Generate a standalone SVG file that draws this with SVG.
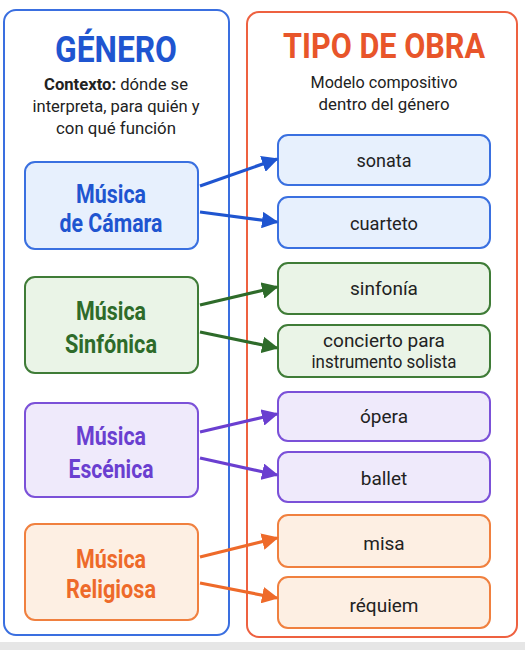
<svg xmlns="http://www.w3.org/2000/svg" width="525" height="650" viewBox="0 0 525 650">
<style>
text{font-family:Roboto,"Noto Sans","Liberation Sans",sans-serif;text-anchor:middle}
.panel{fill:#ffffff;stroke-width:2}
.gen{font-weight:700;font-size:25px}
.tipo{font-size:19px;fill:#222}
.sub{font-size:17px;fill:#222}
.nb rect{fill:#e7f0fd;stroke:#3a70e0;stroke-width:2}
.ng rect{fill:#eaf4e7;stroke:#3f7c37;stroke-width:2}
.np rect{fill:#efeafb;stroke:#7b51d8;stroke-width:2}
.no rect{fill:#fdefe3;stroke:#f0803f;stroke-width:2}
.nb text.gen{fill:#1f55d0}
.ng text.gen{fill:#2e6b2a}
.np text.gen{fill:#6a3fd0}
.no text.gen{fill:#ee6a2a}
.c{stroke-width:3.2;fill:none}
</style>
<defs>
<marker id="ab" viewBox="0 0 10 10" refX="9" refY="5" markerWidth="5.2" markerHeight="5.2" orient="auto" markerUnits="strokeWidth"><path d="M0,0 L10,5 L0,10 z" fill="#1f55d0"/></marker>
<marker id="ag" viewBox="0 0 10 10" refX="9" refY="5" markerWidth="5.2" markerHeight="5.2" orient="auto" markerUnits="strokeWidth"><path d="M0,0 L10,5 L0,10 z" fill="#2e6b2a"/></marker>
<marker id="ap" viewBox="0 0 10 10" refX="9" refY="5" markerWidth="5.2" markerHeight="5.2" orient="auto" markerUnits="strokeWidth"><path d="M0,0 L10,5 L0,10 z" fill="#6a3fd0"/></marker>
<marker id="ao" viewBox="0 0 10 10" refX="9" refY="5" markerWidth="5.2" markerHeight="5.2" orient="auto" markerUnits="strokeWidth"><path d="M0,0 L10,5 L0,10 z" fill="#ee6a2a"/></marker>
</defs>
<rect x="0" y="0" width="525" height="650" fill="#ffffff"/>
<rect x="0" y="642" width="525" height="8" fill="#e6e6e6"/>

<g id="panel-genero">
<rect class="panel" x="4" y="10" width="225" height="625" rx="12" stroke="#3a6fe0"/>
<text x="116" y="62" font-size="37" font-weight="700" fill="#1f55d0" textLength="122" lengthAdjust="spacingAndGlyphs">GÉNERO</text>
<text class="sub" x="116" y="90" textLength="144" lengthAdjust="spacingAndGlyphs"><tspan font-weight="700">Contexto:</tspan> dónde se</text>
<text class="sub" x="116" y="112" textLength="167" lengthAdjust="spacingAndGlyphs">interpreta, para quién y</text>
<text class="sub" x="116" y="134" textLength="120" lengthAdjust="spacingAndGlyphs">con qué función</text>
</g>

<g id="panel-tipo">
<rect class="panel" x="247" y="12" width="270" height="625" rx="12" stroke="#ee6140"/>
<text x="384" y="58" font-size="35" font-weight="700" fill="#e8552a" textLength="202" lengthAdjust="spacingAndGlyphs">TIPO DE OBRA</text>
<text class="sub" x="384" y="88" textLength="147" lengthAdjust="spacingAndGlyphs">Modelo compositivo</text>
<text class="sub" x="384" y="110" textLength="131" lengthAdjust="spacingAndGlyphs">dentro del género</text>
</g>

<g id="n-camara" class="nb">
<rect x="25" y="162" width="173" height="87" rx="10"/>
<text class="gen" x="111" y="203" textLength="70" lengthAdjust="spacingAndGlyphs">Música</text>
<text class="gen" x="111" y="232" textLength="103" lengthAdjust="spacingAndGlyphs">de Cámara</text>
</g>
<g id="n-sinfonica" class="ng">
<rect x="25" y="277" width="173" height="96" rx="10"/>
<text class="gen" x="111" y="320" textLength="70" lengthAdjust="spacingAndGlyphs">Música</text>
<text class="gen" x="111" y="353" textLength="92" lengthAdjust="spacingAndGlyphs">Sinfónica</text>
</g>
<g id="n-escenica" class="np">
<rect x="25" y="403" width="173" height="94" rx="10"/>
<text class="gen" x="111" y="445" textLength="70" lengthAdjust="spacingAndGlyphs">Música</text>
<text class="gen" x="111" y="478" textLength="85" lengthAdjust="spacingAndGlyphs">Escénica</text>
</g>
<g id="n-religiosa" class="no">
<rect x="25" y="524" width="173" height="96" rx="10"/>
<text class="gen" x="111" y="568" textLength="70" lengthAdjust="spacingAndGlyphs">Música</text>
<text class="gen" x="111" y="598" textLength="90" lengthAdjust="spacingAndGlyphs">Religiosa</text>
</g>

<g id="t-sonata" class="nb"><rect x="278" y="135" width="212" height="50" rx="10"/><text class="tipo" x="384" y="167" textLength="55" lengthAdjust="spacingAndGlyphs">sonata</text></g>
<g id="t-cuarteto" class="nb"><rect x="278" y="197" width="212" height="51" rx="10"/><text class="tipo" x="384" y="230" textLength="68" lengthAdjust="spacingAndGlyphs">cuarteto</text></g>
<g id="t-sinfonia" class="ng"><rect x="278" y="263" width="212" height="51" rx="10"/><text class="tipo" x="384" y="295">sinfonía</text></g>
<g id="t-concierto" class="ng"><rect x="278" y="325" width="212" height="52" rx="10"/><text class="tipo" x="384" y="347" font-size="18">concierto para</text><text class="tipo" x="384" y="368" font-size="18" textLength="145" lengthAdjust="spacingAndGlyphs">instrumento solista</text></g>
<g id="t-opera" class="np"><rect x="278" y="392" width="212" height="49" rx="10"/><text class="tipo" x="384" y="423">ópera</text></g>
<g id="t-ballet" class="np"><rect x="278" y="452" width="212" height="50" rx="10"/><text class="tipo" x="384" y="485">ballet</text></g>
<g id="t-misa" class="no"><rect x="278" y="515" width="212" height="52" rx="10"/><text class="tipo" x="384" y="550">misa</text></g>
<g id="t-requiem" class="no"><rect x="278" y="577" width="212" height="51" rx="10"/><text class="tipo" x="384" y="612">réquiem</text></g>

<g id="connectors">
<line class="c" x1="200" y1="186" x2="277" y2="159" stroke="#1f55d0" marker-end="url(#ab)"/>
<line class="c" x1="200" y1="212" x2="277" y2="222" stroke="#1f55d0" marker-end="url(#ab)"/>
<line class="c" x1="200" y1="305" x2="277" y2="287" stroke="#2e6b2a" marker-end="url(#ag)"/>
<line class="c" x1="200" y1="332" x2="277" y2="348" stroke="#2e6b2a" marker-end="url(#ag)"/>
<line class="c" x1="200" y1="432" x2="277" y2="414" stroke="#6a3fd0" marker-end="url(#ap)"/>
<line class="c" x1="200" y1="458" x2="277" y2="475" stroke="#6a3fd0" marker-end="url(#ap)"/>
<line class="c" x1="200" y1="557" x2="277" y2="538" stroke="#ee6a2a" marker-end="url(#ao)"/>
<line class="c" x1="200" y1="583" x2="277" y2="598" stroke="#ee6a2a" marker-end="url(#ao)"/>
</g>
</svg>
